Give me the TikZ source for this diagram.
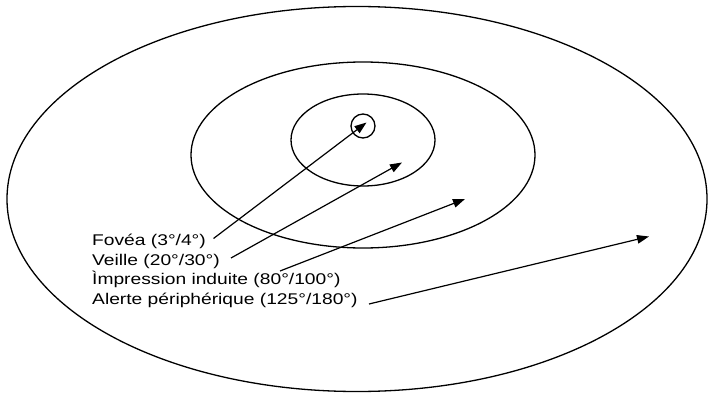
\documentclass[tikz,border=0pt]{standalone}
\usepackage{fontspec}
\setmainfont{Liberation Sans}[FakeStretch=1.24]
\usetikzlibrary{arrows.meta}
\begin{document}
\begin{tikzpicture}[x=1pt,y=-1pt,
  ring/.style={draw,line width=1.3pt},
  ray/.style={line width=1.2pt,-{Triangle[length=12pt,width=8.5pt]}},
  lab/.style={anchor=base west,inner sep=0pt,font=\fontsize{15.5}{18}\selectfont}]
\useasboundingbox (0,0) rectangle (708,393);
% fields of vision
\draw[ring] (357,199) ellipse [x radius=350, y radius=192.5];
\draw[ring] (363,155) ellipse [x radius=172, y radius=93];
\draw[ring] (363,140) ellipse [x radius=72, y radius=46];
\draw[ring] (363,126) circle [radius=12];
% labels
\node[lab] (fov) at (92,245.5) {Fovéa (3°/4°)};
\node[lab] (vei) at (92,265) {Veille (20°/30°)};
\node[lab] (imp) at (92,284.5) {Ìmpression induite (80°/100°)};
\node[lab] (ale) at (92,304) {Alerte périphérique (125°/180°)};
% arrow ends
\coordinate (s1) at (213.5,238.5); \coordinate (e1) at (366.5,122.5);
\coordinate (s2) at (231,258);     \coordinate (e2) at (402,162.5);
\coordinate (s3) at (280,271);     \coordinate (e3) at (465,199);
\coordinate (s4) at (369,304);     \coordinate (e4) at (649,236.5);
\draw[ray] (s1) -- (e1);
\draw[ray] (s2) -- (e2);
\draw[ray] (s3) -- (e3);
\draw[ray] (s4) -- (e4);
\end{tikzpicture}
\end{document}
